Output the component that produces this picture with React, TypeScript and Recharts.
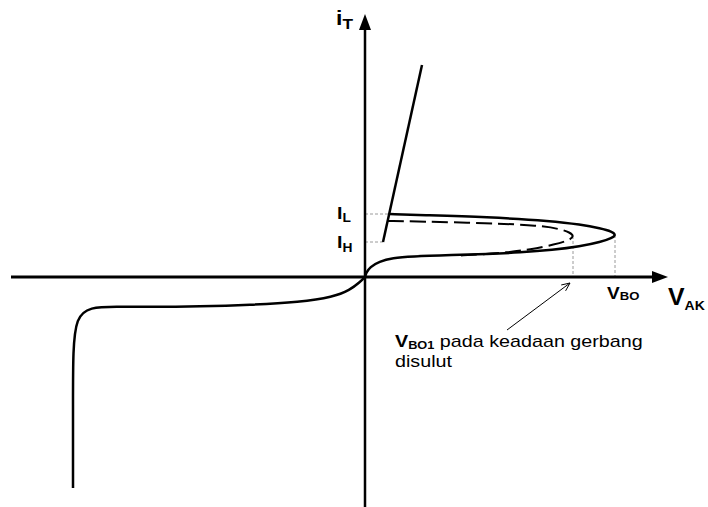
import React from "react";
import { LineChart, Line, XAxis, YAxis, ReferenceLine, ReferenceDot } from "recharts";

// Thyristor characteristic: anode-cathode voltage (V_AK) vs. anode current (i_T), arbitrary units.
const reverseBranch = [
  { x: -292, y: -211 }, { x: -292, y: -120 }, { x: -292, y: -75 }, { x: -289, y: -40 },
  { x: -275, y: -30 }, { x: -250, y: -29.5 }, { x: -215, y: -30 }, { x: -165, y: -29.5 },
  { x: -115, y: -28 }, { x: -65, y: -25 }, { x: -32, y: -20 }, { x: -15, y: -13 },
  { x: -5, y: -5 }, { x: 0, y: 0 },
];

const forwardBlocking = [
  { x: 0, y: 0 }, { x: 1, y: 4 }, { x: 5, y: 10 }, { x: 14, y: 15.5 }, { x: 28, y: 19 },
  { x: 45, y: 20.5 }, { x: 88, y: 22 }, { x: 122, y: 23 }, { x: 155, y: 24.5 },
  { x: 188, y: 27 }, { x: 215, y: 30.5 }, { x: 236, y: 35 }, { x: 247, y: 39 },
  { x: 251, y: 42 }, { x: 247, y: 45.5 }, { x: 236, y: 48.5 }, { x: 215, y: 52.5 },
  { x: 188, y: 56 }, { x: 122, y: 60 }, { x: 55, y: 62 }, { x: 25, y: 63 },
];

const gateTriggered = [
  { x: 23, y: 56 }, { x: 55, y: 55.5 }, { x: 122, y: 54 }, { x: 175, y: 51.5 },
  { x: 195, y: 48 }, { x: 205, y: 44.5 }, { x: 209, y: 41 }, { x: 205, y: 37 },
  { x: 190, y: 32.5 }, { x: 165, y: 27.5 }, { x: 142, y: 24.5 }, { x: 115, y: 22.5 },
  { x: 95, y: 21.5 },
];

const onState = [{ x: 18, y: 35 }, { x: 57, y: 212 }];

const vakAxis = [{ x: -354, y: 0 }, { x: 292, y: 0 }];
const itAxis = [{ x: 0, y: -232 }, { x: 0, y: 250 }];
const vakTip = 303;
const itTip = 263;

const latchingCurrent = 63; // I_L
const holdingCurrent = 35; // I_H
const breakoverVoltage = 250; // V_BO
const breakoverVoltageGate = 208; // V_BO1
const latchEndX = 25;
const holdEndX = 18;

const noteTail = { x: 142, y: -53 };
const noteTip = { x: 205, y: -6 };

const FONT = "'Liberation Sans', Arial, sans-serif";

const subLabel = (
  main: string,
  sub: string,
  o: { dx: number; dy: number; size: number; subSize: number; subDy: number; stretch: number }
) =>
  (p: any) => (
    <g transform={`translate(${p.cx + o.dx},${p.cy + o.dy}) scale(${o.stretch},1)`}>
      <text x={0} y={0} fontFamily={FONT} fontSize={o.size} fontWeight="bold" fill="#000">
        {main}
        <tspan fontSize={o.subSize} dy={o.subDy}>{sub}</tspan>
      </text>
    </g>
  );

const arrowRight = (p: any) => (
  <polygon points={`${p.cx},${p.cy} ${p.cx - 16},${p.cy - 6} ${p.cx - 16},${p.cy + 6}`} fill="#000" />
);
const arrowUp = (p: any) => (
  <polygon points={`${p.cx},${p.cy} ${p.cx - 6},${p.cy + 16} ${p.cx + 6},${p.cy + 16}`} fill="#000" />
);

const noteHead = (p: any) => {
  const ang = Math.atan2(47, -63); // pointing back along the leader
  const len = 9;
  const spread = 0.42;
  const a1 = ang + spread;
  const a2 = ang - spread;
  return (
    <path
      d={`M${p.cx + len * Math.cos(a1)},${p.cy + len * Math.sin(a1)} L${p.cx},${p.cy} L${p.cx + len * Math.cos(a2)},${p.cy + len * Math.sin(a2)}`}
      stroke="#000"
      strokeWidth={1}
      fill="none"
    />
  );
};

const NOTE_STRETCH = 1.16;
const noteText = (p: any) => (
  <g>
    <g transform={`translate(${p.cx - 112},${p.cy + 17}) scale(${NOTE_STRETCH},1)`}>
      <text x={0} y={0} fontFamily={FONT} fontSize={17} fill="#000">
        <tspan fontWeight="bold">V</tspan>
        <tspan fontWeight="bold" fontSize={11} dy={2}>BO1</tspan>
        <tspan dy={-2}> pada keadaan gerbang</tspan>
      </text>
    </g>
    <g transform={`translate(${p.cx - 112},${p.cy + 37}) scale(${NOTE_STRETCH},1)`}>
      <text x={0} y={0} fontFamily={FONT} fontSize={17} fill="#000">disulut</text>
    </g>
  </g>
);

export default function App() {
  const thick = 2.5;
  const guide = { stroke: "#9a9a9a", strokeWidth: 1, strokeDasharray: "3 2" };
  return (
    <div style={{ position: "absolute", left: 0, top: 0, width: 708, height: 507, background: "#fff" }}>
      <LineChart width={708} height={507} margin={{ top: 0, right: 0, bottom: 0, left: 0 }}>
        <XAxis dataKey="x" type="number" domain={[-365, 343]} allowDataOverflow hide />
        <YAxis dataKey="y" type="number" domain={[-230, 277]} allowDataOverflow hide />

        <ReferenceLine segment={[{ x: 0, y: latchingCurrent }, { x: latchEndX, y: latchingCurrent }]} {...guide} />
        <ReferenceLine segment={[{ x: 0, y: holdingCurrent }, { x: holdEndX, y: holdingCurrent }]} {...guide} />
        <ReferenceLine segment={[{ x: breakoverVoltage, y: 42 }, { x: breakoverVoltage, y: 0 }]} {...guide} />
        <ReferenceLine segment={[{ x: breakoverVoltageGate, y: 41 }, { x: breakoverVoltageGate, y: 0 }]} {...guide} />

        <Line data={vakAxis} dataKey="y" type="linear" stroke="#000" strokeWidth={3} dot={false} activeDot={false} isAnimationActive={false} />
        <Line data={itAxis} dataKey="y" type="linear" stroke="#000" strokeWidth={2.5} dot={false} activeDot={false} isAnimationActive={false} />

        <Line data={reverseBranch} dataKey="y" type="basis" stroke="#000" strokeWidth={thick} dot={false} activeDot={false} isAnimationActive={false} />
        <Line data={forwardBlocking} dataKey="y" type="basis" stroke="#000" strokeWidth={thick} dot={false} activeDot={false} isAnimationActive={false} />
        <Line data={gateTriggered} dataKey="y" type="basis" stroke="#000" strokeWidth={2} strokeDasharray="16 6" dot={false} activeDot={false} isAnimationActive={false} />
        <Line data={onState} dataKey="y" type="linear" stroke="#000" strokeWidth={thick} dot={false} activeDot={false} isAnimationActive={false} />

        <ReferenceLine segment={[noteTail, noteTip]} stroke="#000" strokeWidth={1} />
        <ReferenceDot x={noteTip.x} y={noteTip.y} shape={noteHead} />
        <ReferenceDot x={noteTail.x} y={noteTail.y} shape={noteText} />

        <ReferenceDot x={vakTip} y={0} shape={arrowRight} />
        <ReferenceDot x={0} y={itTip} shape={arrowUp} />

        <ReferenceDot x={0} y={itTip} shape={subLabel("i", "T", { dx: -29, dy: 11, size: 20, subSize: 15, subDy: 4, stretch: 1.15 })} />
        <ReferenceDot x={0} y={latchingCurrent} shape={subLabel("I", "L", { dx: -28, dy: 5, size: 17, subSize: 12, subDy: 3, stretch: 1.15 })} />
        <ReferenceDot x={0} y={holdingCurrent} shape={subLabel("I", "H", { dx: -28, dy: 6, size: 17, subSize: 12, subDy: 4, stretch: 1.15 })} />
        <ReferenceDot x={breakoverVoltage} y={0} shape={subLabel("V", "BO", { dx: -8, dy: 22, size: 16, subSize: 11, subDy: 1, stretch: 1.19 })} />
        <ReferenceDot x={vakTip} y={0} shape={subLabel("V", "AK", { dx: 0, dy: 28, size: 23, subSize: 13, subDy: 5, stretch: 1.08 })} />
      </LineChart>
    </div>
  );
}
